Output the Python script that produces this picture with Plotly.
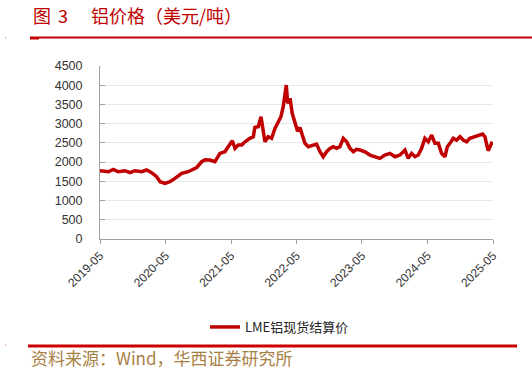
import plotly.graph_objects as go

# ---- data ----
dates = [
    "2019-05-01", "2019-06-16", "2019-07-14", "2019-08-11", "2019-09-17", "2019-10-15",
    "2019-11-12", "2019-12-20", "2020-01-16", "2020-02-13", "2020-03-12", "2020-03-31",
    "2020-04-27", "2020-05-25", "2020-06-22", "2020-07-30", "2020-09-04", "2020-10-02",
    "2020-10-21", "2020-11-18", "2020-12-07", "2021-01-03", "2021-01-31", "2021-02-28",
    "2021-03-28", "2021-04-15", "2021-05-08", "2021-05-23", "2021-06-10", "2021-06-29",
    "2021-07-18", "2021-08-14", "2021-09-02", "2021-09-11", "2021-09-30", "2021-10-15",
    "2021-10-24", "2021-11-06", "2021-11-24", "2021-12-13", "2022-01-01", "2022-01-19",
    "2022-02-03", "2022-02-16", "2022-02-26", "2022-03-05", "2022-03-13", "2022-03-26",
    "2022-04-07", "2022-04-22", "2022-05-07", "2022-05-20", "2022-06-02", "2022-06-17",
    "2022-07-06", "2022-08-02", "2022-08-21", "2022-09-09", "2022-09-27", "2022-10-16",
    "2022-11-04", "2022-11-22", "2022-12-11", "2022-12-29", "2023-01-17", "2023-02-05",
    "2023-02-23", "2023-03-14", "2023-04-01", "2023-04-20", "2023-05-18", "2023-06-15",
    "2023-07-12", "2023-08-09", "2023-09-06", "2023-10-04", "2023-11-01", "2023-11-29",
    "2023-12-27", "2024-01-14", "2024-02-02", "2024-02-21", "2024-03-10", "2024-03-29",
    "2024-04-16", "2024-05-05", "2024-05-24", "2024-06-11", "2024-06-30", "2024-07-18",
    "2024-08-06", "2024-08-19", "2024-09-03", "2024-09-21", "2024-10-10", "2024-10-29",
    "2024-11-16", "2024-12-05", "2024-12-23", "2025-01-20", "2025-02-08", "2025-03-04",
    "2025-03-17", "2025-03-26", "2025-04-04", "2025-04-23", "2025-05-01",
]
lme_aluminium = [
    1776, 1750, 1812, 1750, 1776, 1724,
    1776, 1750, 1794, 1724, 1620, 1490,
    1448, 1490, 1578, 1708, 1750, 1812,
    1860, 2010, 2060, 2054, 2010, 2228,
    2270, 2400, 2556, 2358, 2444, 2444,
    2530, 2618, 2660, 2904, 2920, 3180,
    2878, 2530, 2660, 2618, 2878, 3050,
    3180, 3440, 3700, 4004, 3528, 3658,
    3268, 3000, 2800, 2900, 2720, 2488,
    2400, 2444, 2470, 2270, 2140, 2270,
    2358, 2400, 2358, 2400, 2618, 2530,
    2358, 2270, 2332, 2314, 2270, 2184,
    2140, 2098, 2184, 2228, 2140, 2184,
    2314, 2098, 2228, 2140, 2184, 2358,
    2618, 2530, 2704, 2488, 2488, 2228,
    2140, 2400, 2488, 2618, 2574, 2660,
    2574, 2530, 2618, 2660, 2704, 2730,
    2660, 2488, 2296, 2488, 2460,
]
series_name = "LME铝现货结算价"
tick_dates = ["2019-05-01", "2020-05-01", "2021-05-01", "2022-05-01",
              "2023-05-01", "2024-05-01", "2025-05-01"]
tick_labels = ["2019-05", "2020-05", "2021-05", "2022-05", "2023-05", "2024-05", "2025-05"]
y_ticks = [0, 500, 1000, 1500, 2000, 2500, 3000, 3500, 4000, 4500]

# ---- layout geometry (pixels) ----
W, H = 532, 372
L, R, T, B = 100, 493, 66, 239


def px(x):
    return (x - L) / (R - L)


def py(y):
    return (B - y) / (B - T)


RED = "#C00000"
fig = go.Figure()
fig.add_trace(go.Scatter(
    x=dates, y=lme_aluminium, mode="lines", name=series_name,
    line=dict(color=RED, width=3.5),
))

fig.update_layout(
    width=W, height=H,
    margin=dict(l=L, r=W - R, t=T, b=H - B),
    paper_bgcolor="white", plot_bgcolor="white",
    showlegend=True,
    legend=dict(
        orientation="h", x=px(205), xanchor="left", y=py(327), yanchor="middle",
        font=dict(family="Noto Sans CJK SC", size=13, color="#222"),
        itemwidth=30, bgcolor="rgba(0,0,0,0)",
    ),
    xaxis=dict(
        type="date", range=[tick_dates[0], tick_dates[-1]],
        tickvals=tick_dates, ticktext=tick_labels, tickangle=-45,
        showgrid=False, showline=True, linecolor="#A0A0A0", linewidth=1,
        ticks="outside", ticklen=4, tickcolor="#A0A0A0",
        tickfont=dict(family="Liberation Sans", size=12, color="#333"),
        zeroline=False,
    ),
    yaxis=dict(
        range=[0, 4500], tickvals=y_ticks,
        showgrid=True, gridcolor="#E8E8E8", gridwidth=1,
        showline=True, linecolor="#A0A0A0", linewidth=1,
        ticks="inside", ticklen=5, tickcolor="#A0A0A0",
        tickfont=dict(family="Liberation Sans", size=12.5, color="#333"),
        ticklabelstandoff=14, zeroline=False,
    ),
)

# title texts
fig.add_annotation(text="图", x=px(31), y=py(15), xref="paper", yref="paper",
                   xanchor="left", yanchor="middle", showarrow=False,
                   font=dict(family="Noto Sans CJK SC", size=18, color=RED))
fig.add_annotation(text="3", x=px(56), y=py(15), xref="paper", yref="paper",
                   xanchor="left", yanchor="middle", showarrow=False,
                   font=dict(family="Noto Sans CJK SC", size=18, color=RED))
fig.add_annotation(text="铝价格（美元/吨）", x=px(89), y=py(15), xref="paper", yref="paper",
                   xanchor="left", yanchor="middle", showarrow=False,
                   font=dict(family="Noto Sans CJK SC", size=18, color=RED))
# source text
fig.add_annotation(text="资料来源：Wind，华西证券研究所", x=px(29), y=py(357),
                   xref="paper", yref="paper", xanchor="left", yanchor="middle",
                   showarrow=False,
                   font=dict(family="Noto Sans CJK SC", size=17, color="#A87F45"))

# decorative rules
fig.add_shape(type="line", xref="paper", yref="paper", x0=px(30), x1=px(532),
              y0=py(37.5), y1=py(37.5), line=dict(color=RED, width=2))
fig.add_shape(type="line", xref="paper", yref="paper", x0=px(30), x1=px(39),
              y0=py(38.5), y1=py(38.5), line=dict(color=RED, width=2))
fig.add_shape(type="line", xref="paper", yref="paper", x0=px(28), x1=px(517),
              y0=py(346), y1=py(346), line=dict(color="#CC0000", width=3))
fig.add_shape(type="line", xref="paper", yref="paper", x0=px(5), x1=px(6),
              y0=py(38), y1=py(38), line=dict(color="#F2B0B0", width=2))
fig.add_shape(type="line", xref="paper", yref="paper", x0=px(5), x1=px(6),
              y0=py(345), y1=py(345), line=dict(color="#F2B0B0", width=2))

fig.write_html("out.html")
